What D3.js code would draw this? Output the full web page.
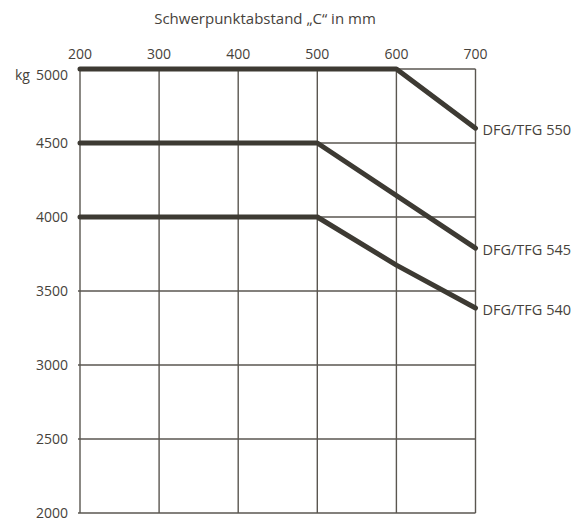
<!DOCTYPE html>
<html lang="de">
<head>
<meta charset="utf-8">
<title>Tragfähigkeit DFG/TFG</title>
<script src="https://cdn.jsdelivr.net/npm/d3@7"></script>
<style>
  body { margin: 0; background: #fff; }
  text { font-family: "Open Sans", sans-serif; fill: #46423b; }
</style>
</head>
<body>
<script>
// distances (mm) and load capacities (kg)
var xTicks = [200, 300, 400, 500, 600, 700];
var yTicks = [2000, 2500, 3000, 3500, 4000, 4500, 5000];
var seriesNames = ["DFG/TFG 550", "DFG/TFG 545", "DFG/TFG 540"];
var seriesX = [
  [200, 600, 700],
  [200, 500, 700],
  [200, 500, 600, 700]
];
var seriesY = [
  [5000, 5000, 4600],
  [4500, 4500, 3790],
  [4000, 4000, 3675, 3385]
];

var w = 581, h = 523;
var ink = "#3d3a33", gridCol = "#5a5650";

var svg = d3.select("body").append("svg")
  .attr("width", w).attr("height", h);

var x = d3.scaleLinear().domain([200, 700]).range([80, 475.5]);
var y = d3.scaleLinear().domain([2000, 5000]).range([513, 69]);

// title
svg.append("text")
  .attr("x", 265).attr("y", 24)
  .attr("text-anchor", "middle")
  .attr("font-size", "15px")
  .text("Schwerpunktabstand \u201eC\u201c in mm");

// horizontal grid
svg.append("g").selectAll("line")
  .data(yTicks).enter().append("line")
  .attr("x1", x(200) - 2).attr("x2", x(700))
  .attr("y1", function(d) { return y(d); })
  .attr("y2", function(d) { return y(d); })
  .attr("stroke", gridCol).attr("stroke-width", 1.4);

// vertical grid
svg.append("g").selectAll("line")
  .data(xTicks).enter().append("line")
  .attr("x1", function(d) { return x(d); })
  .attr("x2", function(d) { return x(d); })
  .attr("y1", y(5000)).attr("y2", y(2000))
  .attr("stroke", gridCol).attr("stroke-width", 1.4);

// x labels (top)
svg.append("g").selectAll("text")
  .data(xTicks).enter().append("text")
  .attr("x", function(d) { return x(d); })
  .attr("y", 59)
  .attr("text-anchor", "middle")
  .attr("font-size", "14px")
  .text(function(d) { return d; });

// y labels
svg.append("g").selectAll("text")
  .data(yTicks).enter().append("text")
  .attr("x", 68)
  .attr("y", function(d) { return y(d) + (d === 5000 ? 6 : 0); })
  .attr("dy", "0.36em")
  .attr("text-anchor", "end")
  .attr("font-size", "14px")
  .text(function(d) { return d; });

svg.append("text")
  .attr("x", 15).attr("y", y(5000) + 6)
  .attr("dy", "0.36em")
  .attr("font-size", "14px")
  .text("kg");

// load curves
var line = d3.line()
  .x(function(d) { return x(d[0]); })
  .y(function(d) { return y(d[1]); });

seriesNames.forEach(function(name, i) {
  var pts = seriesX[i].map(function(v, j) { return [v, seriesY[i][j]]; });
  svg.append("path")
    .attr("d", line(pts))
    .attr("fill", "none")
    .attr("stroke", ink)
    .attr("stroke-width", 5)
    .attr("stroke-linecap", "round")
    .attr("stroke-linejoin", "round");
  var last = pts[pts.length - 1];
  svg.append("text")
    .attr("x", x(last[0]) + 7)
    .attr("y", y(last[1]) + 2)
    .attr("dy", "0.36em")
    .attr("font-size", "14.5px")
    .text(name);
});
</script>
</body>
</html>
